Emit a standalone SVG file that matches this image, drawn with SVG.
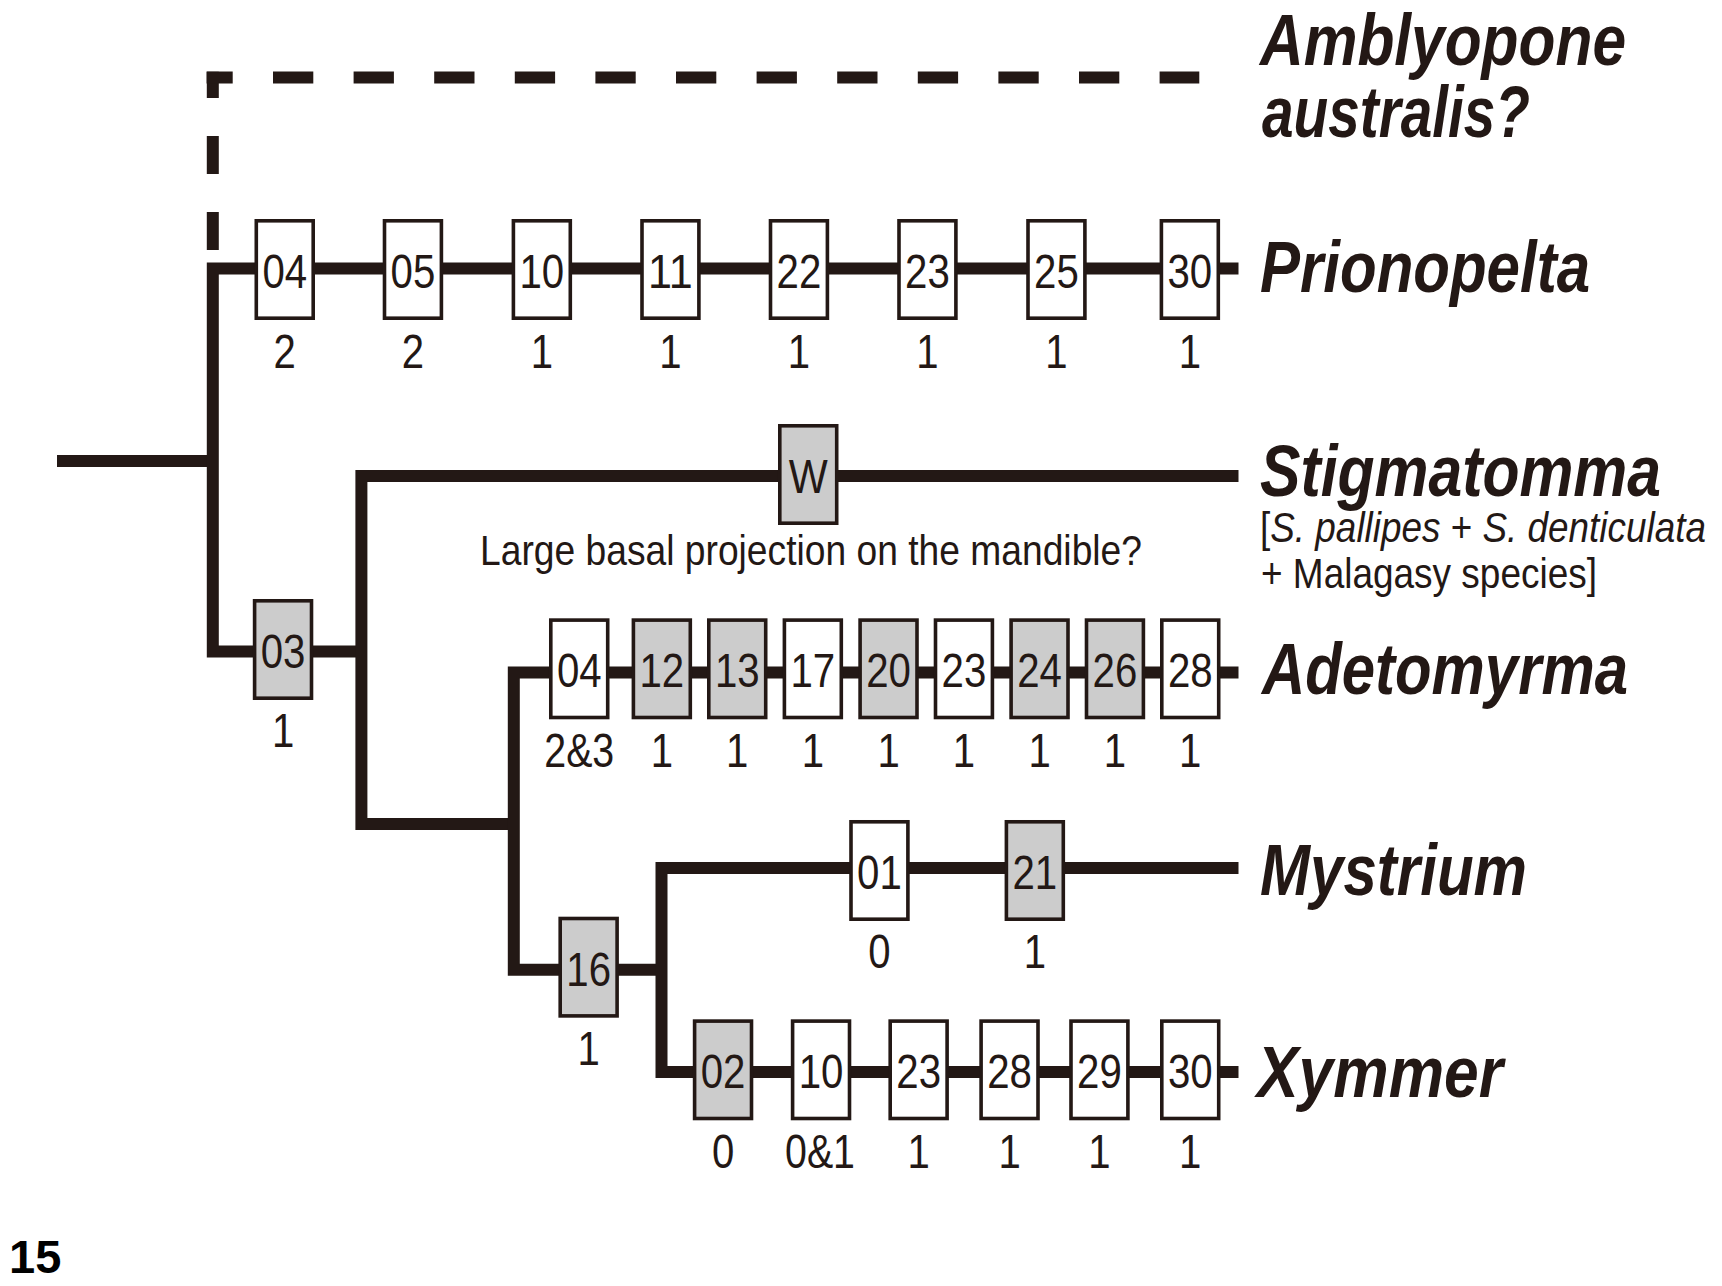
<svg xmlns="http://www.w3.org/2000/svg" width="1722" height="1286" viewBox="0 0 1722 1286">
<style>
.ln{fill:none;stroke:#231815;stroke-width:12;stroke-linejoin:miter;stroke-linecap:butt}
.dash{fill:none;stroke:#231815;stroke-width:12;stroke-linecap:butt}
.bx{stroke:#231815;stroke-width:3.6}
.w{fill:#ffffff}
.g{fill:#cccccc}
.num{font-family:"Liberation Sans Narrow","Liberation Sans",Arial,sans-serif;font-size:49px;fill:#231815;text-anchor:middle}
.tax{font-family:"Liberation Sans",Arial,sans-serif;font-weight:bold;font-style:italic;font-size:73px;fill:#231815}
.sub{font-family:"Liberation Sans",Arial,sans-serif;font-size:42px;fill:#231815}
.note{font-family:"Liberation Sans Narrow","Liberation Sans",Arial,sans-serif;font-size:42px;fill:#231815}
.it{font-style:italic}
</style>
<rect width="1722" height="1286" fill="#ffffff"/>
<g id="connectors">
<path class="dash" d="M212.8,250 V71.7" stroke-dasharray="38 38"/>
<path class="dash" d="M206.6,77.5 H1199.3" stroke-dasharray="40.3 40.3" stroke-dashoffset="14.2"/>
<path class="ln" d="M57,461 H213"/>
<path class="ln" d="M1238.5,268.5 H212.8 V651.5 H367"/>
<path class="ln" d="M1238.5,476 H361.4 V824 H519"/>
<path class="ln" d="M1238.5,672.5 H513.8 V969.7 H667"/>
<path class="ln" d="M1238.5,868 H661.5 V1072 H1238.5"/>
</g>
<g id="prionopelta-chars">
<g id="p04"><rect class="bx w" x="256.3" y="220.8" width="56.9" height="97.4"/><text class="num" x="284.75" y="288" textLength="44.7" lengthAdjust="spacingAndGlyphs">04</text><text class="num" x="284.75" y="367.5" textLength="22.3" lengthAdjust="spacingAndGlyphs">2</text></g>
<g id="p05"><rect class="bx w" x="384.5" y="220.8" width="56.9" height="97.4"/><text class="num" x="412.95" y="288" textLength="44.7" lengthAdjust="spacingAndGlyphs">05</text><text class="num" x="412.95" y="367.5" textLength="22.3" lengthAdjust="spacingAndGlyphs">2</text></g>
<g id="p10"><rect class="bx w" x="513.4" y="220.8" width="56.9" height="97.4"/><text class="num" x="541.85" y="288" textLength="44.7" lengthAdjust="spacingAndGlyphs">10</text><text class="num" x="541.85" y="367.5" textLength="22.3" lengthAdjust="spacingAndGlyphs">1</text></g>
<g id="p11"><rect class="bx w" x="642" y="220.8" width="56.9" height="97.4"/><text class="num" x="670.45" y="288" textLength="44.7" lengthAdjust="spacingAndGlyphs">11</text><text class="num" x="670.45" y="367.5" textLength="22.3" lengthAdjust="spacingAndGlyphs">1</text></g>
<g id="p22"><rect class="bx w" x="770.5" y="220.8" width="56.9" height="97.4"/><text class="num" x="798.95" y="288" textLength="44.7" lengthAdjust="spacingAndGlyphs">22</text><text class="num" x="798.95" y="367.5" textLength="22.3" lengthAdjust="spacingAndGlyphs">1</text></g>
<g id="p23"><rect class="bx w" x="899" y="220.8" width="56.9" height="97.4"/><text class="num" x="927.45" y="288" textLength="44.7" lengthAdjust="spacingAndGlyphs">23</text><text class="num" x="927.45" y="367.5" textLength="22.3" lengthAdjust="spacingAndGlyphs">1</text></g>
<g id="p25"><rect class="bx w" x="1028" y="220.8" width="56.9" height="97.4"/><text class="num" x="1056.45" y="288" textLength="44.7" lengthAdjust="spacingAndGlyphs">25</text><text class="num" x="1056.45" y="367.5" textLength="22.3" lengthAdjust="spacingAndGlyphs">1</text></g>
<g id="p30"><rect class="bx w" x="1161.4" y="220.8" width="56.9" height="97.4"/><text class="num" x="1189.85" y="288" textLength="44.7" lengthAdjust="spacingAndGlyphs">30</text><text class="num" x="1189.85" y="367.5" textLength="22.3" lengthAdjust="spacingAndGlyphs">1</text></g>
</g>
<g id="n03"><rect class="bx g" x="254.6" y="600.8" width="56.9" height="97.4"/><text class="num" x="283.05" y="668" textLength="44.7" lengthAdjust="spacingAndGlyphs">03</text><text class="num" x="283.05" y="746.7" textLength="22.3" lengthAdjust="spacingAndGlyphs">1</text></g>
<g id="nW"><rect class="bx g" x="779.8" y="425.8" width="56.9" height="97.4"/><text class="num" x="808.25" y="493" textLength="39" lengthAdjust="spacingAndGlyphs">W</text><text class="note" x="480" y="565" textLength="662" lengthAdjust="spacingAndGlyphs">Large basal projection on the mandible?</text></g>
<g id="adetomyrma-chars">
<g id="a04"><rect class="bx w" x="550.8" y="620.1" width="56.9" height="97.4"/><text class="num" x="579.25" y="687.3" textLength="44.7" lengthAdjust="spacingAndGlyphs">04</text><text class="num" x="579.25" y="766.7" textLength="70" lengthAdjust="spacingAndGlyphs">2&amp;3</text></g>
<g id="a12"><rect class="bx g" x="633.4" y="620.1" width="56.9" height="97.4"/><text class="num" x="661.85" y="687.3" textLength="44.7" lengthAdjust="spacingAndGlyphs">12</text><text class="num" x="661.85" y="766.7" textLength="22.3" lengthAdjust="spacingAndGlyphs">1</text></g>
<g id="a13"><rect class="bx g" x="708.8" y="620.1" width="56.9" height="97.4"/><text class="num" x="737.25" y="687.3" textLength="44.7" lengthAdjust="spacingAndGlyphs">13</text><text class="num" x="737.25" y="766.7" textLength="22.3" lengthAdjust="spacingAndGlyphs">1</text></g>
<g id="a17"><rect class="bx w" x="784.4" y="620.1" width="56.9" height="97.4"/><text class="num" x="812.85" y="687.3" textLength="44.7" lengthAdjust="spacingAndGlyphs">17</text><text class="num" x="812.85" y="766.7" textLength="22.3" lengthAdjust="spacingAndGlyphs">1</text></g>
<g id="a20"><rect class="bx g" x="860.1" y="620.1" width="56.9" height="97.4"/><text class="num" x="888.55" y="687.3" textLength="44.7" lengthAdjust="spacingAndGlyphs">20</text><text class="num" x="888.55" y="766.7" textLength="22.3" lengthAdjust="spacingAndGlyphs">1</text></g>
<g id="a23"><rect class="bx w" x="935.5" y="620.1" width="56.9" height="97.4"/><text class="num" x="963.95" y="687.3" textLength="44.7" lengthAdjust="spacingAndGlyphs">23</text><text class="num" x="963.95" y="766.7" textLength="22.3" lengthAdjust="spacingAndGlyphs">1</text></g>
<g id="a24"><rect class="bx g" x="1011.1" y="620.1" width="56.9" height="97.4"/><text class="num" x="1039.55" y="687.3" textLength="44.7" lengthAdjust="spacingAndGlyphs">24</text><text class="num" x="1039.55" y="766.7" textLength="22.3" lengthAdjust="spacingAndGlyphs">1</text></g>
<g id="a26"><rect class="bx g" x="1086.5" y="620.1" width="56.9" height="97.4"/><text class="num" x="1114.95" y="687.3" textLength="44.7" lengthAdjust="spacingAndGlyphs">26</text><text class="num" x="1114.95" y="766.7" textLength="22.3" lengthAdjust="spacingAndGlyphs">1</text></g>
<g id="a28"><rect class="bx w" x="1161.8" y="620.1" width="56.9" height="97.4"/><text class="num" x="1190.25" y="687.3" textLength="44.7" lengthAdjust="spacingAndGlyphs">28</text><text class="num" x="1190.25" y="766.7" textLength="22.3" lengthAdjust="spacingAndGlyphs">1</text></g>
</g>
<g id="n16"><rect class="bx g" x="560.2" y="918.5" width="56.9" height="97.4"/><text class="num" x="588.65" y="985.7" textLength="44.7" lengthAdjust="spacingAndGlyphs">16</text><text class="num" x="588.65" y="1065" textLength="22.3" lengthAdjust="spacingAndGlyphs">1</text></g>
<g id="mystrium-chars">
<g id="m01"><rect class="bx w" x="851" y="821.8" width="56.9" height="97.4"/><text class="num" x="879.45" y="889" textLength="44.7" lengthAdjust="spacingAndGlyphs">01</text><text class="num" x="879.45" y="968.3" textLength="22.3" lengthAdjust="spacingAndGlyphs">0</text></g>
<g id="m21"><rect class="bx g" x="1006.4" y="821.8" width="56.9" height="97.4"/><text class="num" x="1034.85" y="889" textLength="44.7" lengthAdjust="spacingAndGlyphs">21</text><text class="num" x="1034.85" y="968.3" textLength="22.3" lengthAdjust="spacingAndGlyphs">1</text></g>
</g>
<g id="xymmer-chars">
<g id="x02"><rect class="bx g" x="694.6" y="1021.1" width="56.9" height="97.4"/><text class="num" x="723.05" y="1088.3" textLength="44.7" lengthAdjust="spacingAndGlyphs">02</text><text class="num" x="723.05" y="1168.3" textLength="22.3" lengthAdjust="spacingAndGlyphs">0</text></g>
<g id="x10"><rect class="bx w" x="792.6" y="1021.1" width="56.9" height="97.4"/><text class="num" x="821.05" y="1088.3" textLength="44.7" lengthAdjust="spacingAndGlyphs">10</text><text class="num" x="820" y="1168.3" textLength="70" lengthAdjust="spacingAndGlyphs">0&amp;1</text></g>
<g id="x23"><rect class="bx w" x="890.2" y="1021.1" width="56.9" height="97.4"/><text class="num" x="918.65" y="1088.3" textLength="44.7" lengthAdjust="spacingAndGlyphs">23</text><text class="num" x="918.65" y="1168.3" textLength="22.3" lengthAdjust="spacingAndGlyphs">1</text></g>
<g id="x28"><rect class="bx w" x="981.1" y="1021.1" width="56.9" height="97.4"/><text class="num" x="1009.55" y="1088.3" textLength="44.7" lengthAdjust="spacingAndGlyphs">28</text><text class="num" x="1009.55" y="1168.3" textLength="22.3" lengthAdjust="spacingAndGlyphs">1</text></g>
<g id="x29"><rect class="bx w" x="1071" y="1021.1" width="56.9" height="97.4"/><text class="num" x="1099.45" y="1088.3" textLength="44.7" lengthAdjust="spacingAndGlyphs">29</text><text class="num" x="1099.45" y="1168.3" textLength="22.3" lengthAdjust="spacingAndGlyphs">1</text></g>
<g id="x30"><rect class="bx w" x="1161.8" y="1021.1" width="56.9" height="97.4"/><text class="num" x="1190.25" y="1088.3" textLength="44.7" lengthAdjust="spacingAndGlyphs">30</text><text class="num" x="1190.25" y="1168.3" textLength="22.3" lengthAdjust="spacingAndGlyphs">1</text></g>
</g>
<g id="taxa">
<g id="t-amblyopone"><text class="tax" x="1260" y="65" textLength="366" lengthAdjust="spacingAndGlyphs">Amblyopone</text><text class="tax" x="1262" y="136.7" textLength="268" lengthAdjust="spacingAndGlyphs">australis?</text></g>
<g id="t-prionopelta"><text class="tax" x="1260" y="292" textLength="330" lengthAdjust="spacingAndGlyphs">Prionopelta</text></g>
<g id="t-stigmatomma"><text class="tax" x="1260" y="496" textLength="401" lengthAdjust="spacingAndGlyphs">Stigmatomma</text>
<text class="sub" x="1260" y="542" textLength="446" lengthAdjust="spacingAndGlyphs">[<tspan class="it">S. pallipes</tspan> + <tspan class="it">S. denticulata</tspan></text>
<text class="sub" x="1261" y="587.5" textLength="336" lengthAdjust="spacingAndGlyphs">+ Malagasy species]</text></g>
<g id="t-adetomyrma"><text class="tax" x="1262" y="694" textLength="366" lengthAdjust="spacingAndGlyphs">Adetomyrma</text></g>
<g id="t-mystrium"><text class="tax" x="1260" y="895" textLength="267" lengthAdjust="spacingAndGlyphs">Mystrium</text></g>
<g id="t-xymmer"><text class="tax" x="1257" y="1096.7" textLength="246" lengthAdjust="spacingAndGlyphs">Xymmer</text></g>
</g>
<text x="9" y="1273.3" font-family="Liberation Sans, Arial, sans-serif" font-weight="bold" font-size="47" fill="#000000">15</text>
</svg>
